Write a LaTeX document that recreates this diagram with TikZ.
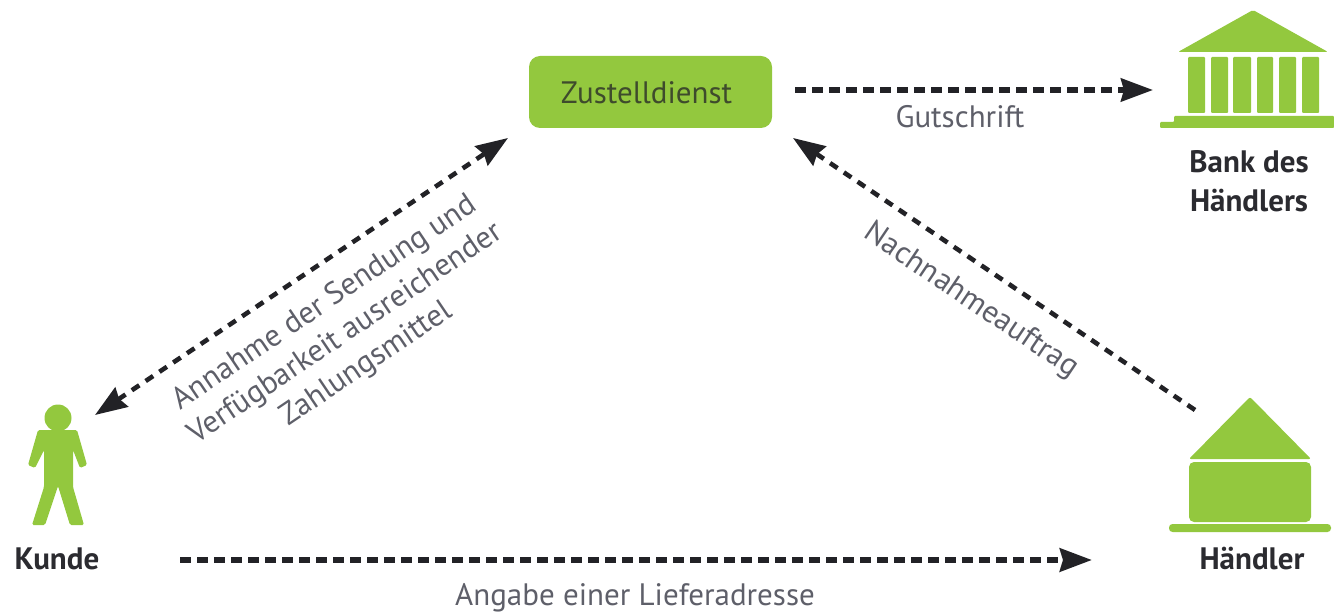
\documentclass[tikz,border=0pt]{standalone}
\usepackage{fontspec}
\setmainfont{PT Sans}
\usetikzlibrary{arrows.meta}
\definecolor{lime}{HTML}{93C83E}
\definecolor{lbl}{HTML}{5E5F69}
\definecolor{ink}{HTML}{222226}
\tikzset{
  flowtip/.tip={Stealth[length=32pt,width=23pt,inset=3pt]},
  icon/.style={fill=lime,draw=none},
  flow/.style={draw=ink,line width=4.6pt,dash pattern=on 9pt off 7.6pt,-flowtip},
  flowflat/.style={flow,line width=5.4pt,dash pattern=on 11pt off 6pt},
  flowtwo/.style={flow,flowtip-flowtip},
  caption/.style={font=\fontsize{31}{39}\selectfont,text=lbl,align=center,inner sep=0pt},
  actor/.style={font=\fontsize{31}{39}\selectfont\bfseries,text=ink!85!lbl,align=center,inner sep=0pt},
}
\begin{document}
\begin{tikzpicture}[x=1pt,y=-1pt]
\useasboundingbox (0,0) rectangle (1334,612);
% delivery service
\node[icon,rounded corners=11pt,minimum width=243pt,minimum height=72pt,inner sep=0pt,
      font=\fontsize{31}{34}\selectfont,text=ink!75!lime] (dienst) at (650.5,92) {\raisebox{-12pt}[0pt][0pt]{\kern-8pt Zustelldienst}};
% customer
\fill[icon] (58,418) circle (13.5);
\fill[icon,rounded corners=1.5pt] (38,430) -- (77,430) -- (87,465) -- (80,468) -- (73,450) -- (73,487)
  -- (84,525) -- (70,525) -- (58,486) -- (45,525) -- (32,525) -- (44,487) -- (44,450) -- (35,468) -- (28,465) -- cycle;
\node[actor] (kunde) at (57,559) {Kunde};
% bank
\fill[icon,rounded corners=2pt] (1178,52) -- (1253,10) -- (1328,52) -- cycle;
\foreach \a/\b in {1188/1205,1211/1228,1233/1251,1257/1273,1279/1296,1302/1319}
  \fill[icon,rounded corners=1pt] (\a,57) rectangle (\b,113);
\fill[icon,rounded corners=1pt] (1160,128) -- (1160,122) -- (1174,122) -- (1174,116) -- (1334,116) -- (1334,128) -- cycle;
\node[actor] (bank) at (1249,181) {Bank des\\Händlers};
% merchant
\fill[icon,rounded corners=2pt] (1189,459) -- (1250,397) -- (1311,459) -- cycle;
\fill[icon,rounded corners=5pt] (1189,462) rectangle (1311,522);
\fill[icon,rounded corners=3.5pt] (1169,524) rectangle (1331,532);
\node[actor] (haendler) at (1252,559) {Händler};
% anchors
\coordinate (dienstR) at (795,90);
\coordinate (bankL) at (1153,90);
\coordinate (dienstLB) at (508,138);
\coordinate (dienstRB) at (793,138);
\coordinate (kundeA) at (95,415);
\coordinate (haendlerA) at (1195,410);
\coordinate (kundeR) at (180,560);
\coordinate (haendlerL) at (1092,560);
% connectors
\draw[flowflat] (dienstR) -- (bankL);
\draw[flow] (haendlerA) -- (dienstRB);
\draw[flowtwo] (kundeA) -- (dienstLB);
\draw[flowflat,line width=6pt] (kundeR) -- (haendlerL);
% labels
\node[caption] (l1) at (960,117) {Gutschrift};
\node[caption,rotate=-34] (l2) at (971,301) {Nachnahmeauftrag};
\node[caption,rotate=34,font=\fontsize{31}{37}\selectfont] (l3) at (346,334) {Annahme der Sendung und\\Verfügbarkeit ausreichender\\Zahlungsmittel};
\node[caption] (l4) at (635,598) {Angabe einer Lieferadresse};
\end{tikzpicture}
\end{document}
